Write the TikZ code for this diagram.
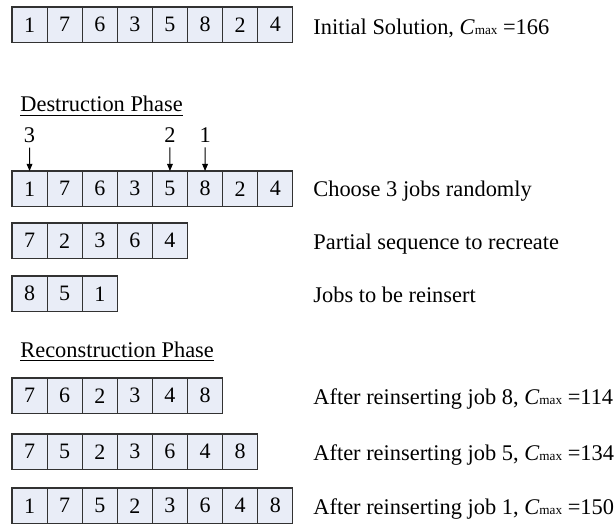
\documentclass[tikz,border=0pt]{standalone}
\usepackage{fontspec}
\setmainfont{Liberation Serif}
\usetikzlibrary{arrows.meta}
\definecolor{cellfill}{RGB}{233,237,247}
\definecolor{celledge}{RGB}{50,50,50}
% one row of job cells: name prefix, top edge, list of jobs
\newcommand\jobrow[3]{%
  \foreach \v [count=\i] in {#3} {%
    \node[jobcell] (#1c\i) at ({12+(\i-1)*35.1},#2) {\v};%
  }%
}
\newcommand\cmx{\textit{C}{\fontsize{6.6}{7}\selectfont max}}
\begin{document}
\begin{tikzpicture}[x=0.5pt,y=-0.5pt,
  jobcell/.style={draw=celledge, fill=cellfill, line width=0.6pt,
    minimum width=17.55pt, minimum height=17.75pt, inner sep=0pt,
    outer sep=0pt, anchor=north west, font=\fontsize{11}{12}\selectfont},
  desc/.style={anchor=base west, inner sep=0pt, font=\fontsize{11.2}{13}\selectfont},
  phase/.style={anchor=base west, inner sep=0pt, font=\fontsize{11.2}{13}\selectfont},
  picklabel/.style={anchor=base, inner sep=0pt, font=\fontsize{11.2}{13}\selectfont},
  pickarrow/.style={-{Triangle[length=3.6pt,width=2.9pt]}, line width=0.5pt,
    shorten <=2.5pt}]
\useasboundingbox (0,0) rectangle (616,524);

% initial solution
\jobrow{a}{7}{1,7,6,3,5,8,2,4}
\node[desc] (ta) at (313,35) {Initial Solution, \cmx{} =166};

% destruction phase
\node[phase] (hd) at (20,112) {\underline{Destruction Phase}};
\jobrow{b}{171}{1,7,6,3,5,8,2,4}
\node[picklabel] (p3) at (29.5,142) {3};
\node[picklabel] (p2) at (170,142) {2};
\node[picklabel] (p1) at (205.2,142) {1};
\draw[pickarrow] (p3.south) -- (bc1.north);
\draw[pickarrow] (p2.south) -- (bc5.north);
\draw[pickarrow] (p1.south) -- (bc6.north);
\node[desc] (tb) at (313,197) {Choose 3 jobs randomly};

\jobrow{c}{223}{7,2,3,6,4}
\node[desc] (tc) at (313,249.5) {Partial sequence to recreate};

\jobrow{d}{276}{8,5,1}
\node[desc] (td) at (313,302) {Jobs to be reinsert};

% reconstruction phase
\node[phase] (hr) at (20,357) {\underline{Reconstruction Phase}};
\jobrow{e}{378}{7,6,2,3,4,8}
\node[desc] (te) at (313,404) {After reinserting job 8, \cmx{} =114};

\jobrow{f}{434}{7,5,2,3,6,4,8}
\node[desc] (tf) at (313,460) {After reinserting job 5, \cmx{} =134};

\jobrow{g}{488}{1,7,5,2,3,6,4,8}
\node[desc] (tg) at (313,514) {After reinserting job 1, \cmx{} =150};
\end{tikzpicture}
\end{document}
